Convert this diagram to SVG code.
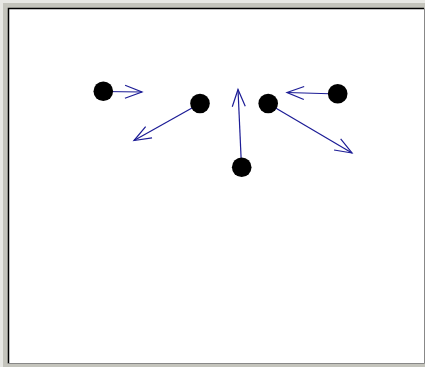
<svg xmlns="http://www.w3.org/2000/svg" width="425" height="367" viewBox="0 0 425 367">
<defs>
<style>
.dot{fill:#000}
.arr{stroke:#1c1c96;stroke-width:1.2;fill:none;marker-end:url(#ah)}
</style>
<marker id="ah" markerUnits="userSpaceOnUse" markerWidth="20" markerHeight="16" viewBox="-18 -8 20 16" refX="0" refY="0" orient="auto" overflow="visible">
<path d="M-17,-6.5 L0,0 L-17,6.5" fill="none" stroke="#1c1c96" stroke-width="1.2"/>
</marker>
</defs>
<rect x="0" y="0" width="425" height="367" fill="#e8e8e4"/>
<rect x="3" y="3" width="422" height="364" fill="#c4c4bc"/>
<rect x="8" y="8" width="416" height="356" fill="#fff"/>
<path d="M8.5,363.5 V8.5 H424" fill="none" stroke="#000" stroke-width="1.5"/>
<path d="M8.5,363.5 H424.5 V8.5" fill="none" stroke="#888" stroke-width="1"/>
<g id="connectors">
<line class="arr" x1="103" y1="91.5" x2="142" y2="92"/>
<line class="arr" x1="200" y1="103.5" x2="134" y2="140.5"/>
<line class="arr" x1="268" y1="103.5" x2="352" y2="153"/>
<line class="arr" x1="338" y1="94" x2="287" y2="92.5"/>
<line class="arr" x1="241.5" y1="167" x2="238" y2="89.5"/>
</g>
<g id="n1"><circle class="dot" cx="103.3" cy="91.2" r="9.8"/></g>
<g id="n2"><circle class="dot" cx="200" cy="103.5" r="9.8"/></g>
<g id="n3"><circle class="dot" cx="268.2" cy="103.5" r="9.8"/></g>
<g id="n4"><circle class="dot" cx="337.7" cy="93.8" r="9.8"/></g>
<g id="n5"><circle class="dot" cx="241.7" cy="167.2" r="9.8"/></g>
</svg>
